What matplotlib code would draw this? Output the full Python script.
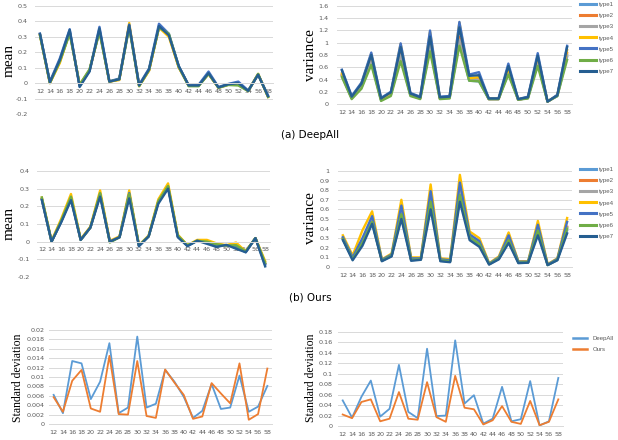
import matplotlib
matplotlib.use("Agg")
import matplotlib.pyplot as plt
from matplotlib.lines import Line2D

# ---------------- data ----------------
layers = [12, 14, 16, 18, 20, 22, 24, 26, 28, 30, 32, 34, 36, 38, 40, 42, 44, 46, 48, 50, 52, 54, 56, 58]
type_names = ["type1", "type2", "type3", "type4", "type5", "type6", "type7"]
type_colors = ["#5B9BD5", "#ED7D31", "#A5A5A5", "#FFC000", "#4472C4", "#70AD47", "#255E91"]

# (a) DeepAll - mean
da_mean_t1 = [0.315, 0.005, 0.145, 0.335, -0.015, 0.080, 0.345, 0.010, 0.025, 0.370, -0.015, 0.085, 0.365, 0.310, 0.105, -0.015, -0.015, 0.062, -0.028, -0.008, -0.005, -0.050, 0.057, -0.085]
da_mean_t2 = [0.315, 0.003, 0.140, 0.330, -0.012, 0.082, 0.340, 0.010, 0.024, 0.372, -0.017, 0.083, 0.362, 0.312, 0.104, -0.016, -0.016, 0.060, -0.029, -0.009, -0.008, -0.051, 0.058, -0.087]
da_mean_t3 = [0.316, 0.004, 0.142, 0.332, -0.013, 0.081, 0.342, 0.010, 0.025, 0.375, -0.016, 0.084, 0.364, 0.311, 0.105, -0.015, -0.015, 0.061, -0.028, -0.009, -0.006, -0.050, 0.057, -0.086]
da_mean_t4 = [0.310, 0.000, 0.130, 0.330, -0.010, 0.085, 0.340, 0.010, 0.020, 0.390, -0.020, 0.080, 0.360, 0.300, 0.100, -0.015, -0.015, 0.060, -0.030, -0.010, -0.010, -0.050, 0.060, -0.090]
da_mean_t5 = [0.320, 0.010, 0.160, 0.350, -0.020, 0.080, 0.365, 0.012, 0.030, 0.380, -0.010, 0.095, 0.385, 0.320, 0.110, -0.015, -0.010, 0.075, -0.025, -0.005, 0.010, -0.048, 0.055, -0.080]
da_mean_t6 = [0.310, 0.000, 0.140, 0.320, -0.010, 0.090, 0.330, 0.010, 0.025, 0.360, -0.020, 0.085, 0.360, 0.320, 0.105, -0.020, -0.020, 0.060, -0.030, -0.012, -0.015, -0.052, 0.060, -0.090]
da_mean_t7 = [0.320, 0.005, 0.150, 0.345, -0.025, 0.075, 0.355, 0.010, 0.025, 0.375, -0.015, 0.090, 0.370, 0.310, 0.110, -0.015, -0.015, 0.065, -0.028, -0.007, 0.000, -0.050, 0.055, -0.085]

# (a) DeepAll - variance
da_var_t1 = [0.46, 0.09, 0.27, 0.68, 0.06, 0.15, 0.76, 0.14, 0.09, 0.92, 0.09, 0.10, 1.02, 0.38, 0.37, 0.08, 0.08, 0.51, 0.07, 0.10, 0.67, 0.04, 0.13, 0.77]
da_var_t2 = [0.47, 0.10, 0.30, 0.72, 0.07, 0.16, 0.82, 0.15, 0.10, 0.98, 0.10, 0.11, 1.10, 0.41, 0.43, 0.08, 0.08, 0.55, 0.07, 0.10, 0.72, 0.04, 0.14, 0.83]
da_var_t3 = [0.48, 0.10, 0.29, 0.70, 0.07, 0.16, 0.80, 0.15, 0.10, 0.95, 0.10, 0.11, 1.05, 0.40, 0.40, 0.08, 0.08, 0.53, 0.07, 0.10, 0.70, 0.04, 0.13, 0.80]
da_var_t4 = [0.50, 0.11, 0.34, 0.82, 0.08, 0.18, 0.98, 0.16, 0.10, 1.18, 0.10, 0.12, 1.33, 0.42, 0.44, 0.09, 0.09, 0.58, 0.08, 0.11, 0.78, 0.04, 0.14, 0.88]
da_var_t5 = [0.56, 0.13, 0.35, 0.84, 0.10, 0.20, 0.99, 0.18, 0.12, 1.20, 0.12, 0.13, 1.34, 0.48, 0.52, 0.09, 0.09, 0.66, 0.08, 0.12, 0.83, 0.04, 0.15, 0.95]
da_var_t6 = [0.44, 0.08, 0.25, 0.64, 0.05, 0.13, 0.70, 0.13, 0.08, 0.86, 0.08, 0.09, 0.95, 0.38, 0.37, 0.08, 0.08, 0.48, 0.07, 0.09, 0.62, 0.04, 0.13, 0.72]
da_var_t7 = [0.55, 0.12, 0.33, 0.80, 0.09, 0.19, 0.93, 0.17, 0.11, 1.10, 0.11, 0.12, 1.25, 0.46, 0.47, 0.09, 0.09, 0.62, 0.08, 0.11, 0.79, 0.04, 0.14, 0.93]

# (b) Ours - mean
ou_mean_t1 = [0.240, 0.000, 0.115, 0.245, 0.010, 0.080, 0.265, 0.000, 0.025, 0.265, -0.022, 0.030, 0.225, 0.310, 0.030, -0.022, 0.005, -0.004, -0.020, -0.020, -0.025, -0.057, 0.020, -0.125]
ou_mean_t2 = [0.242, 0.002, 0.118, 0.250, 0.011, 0.081, 0.270, 0.001, 0.026, 0.270, -0.021, 0.031, 0.228, 0.315, 0.032, -0.021, 0.006, -0.002, -0.018, -0.020, -0.020, -0.056, 0.020, -0.122]
ou_mean_t3 = [0.241, 0.001, 0.117, 0.248, 0.010, 0.080, 0.268, 0.000, 0.025, 0.268, -0.022, 0.030, 0.226, 0.312, 0.031, -0.022, 0.005, -0.003, -0.019, -0.021, -0.022, -0.057, 0.020, -0.124]
ou_mean_t4 = [0.250, 0.005, 0.130, 0.270, 0.015, 0.085, 0.290, 0.005, 0.030, 0.290, -0.020, 0.035, 0.240, 0.330, 0.040, -0.020, 0.010, 0.010, -0.010, -0.020, -0.005, -0.055, 0.020, -0.110]
ou_mean_t5 = [0.240, 0.000, 0.115, 0.245, 0.010, 0.080, 0.270, 0.000, 0.025, 0.275, -0.025, 0.030, 0.225, 0.310, 0.030, -0.025, 0.005, -0.005, -0.020, -0.020, -0.030, -0.060, 0.020, -0.130]
ou_mean_t6 = [0.250, 0.000, 0.120, 0.255, 0.010, 0.080, 0.275, -0.005, 0.025, 0.270, -0.020, 0.030, 0.230, 0.315, 0.035, -0.020, 0.005, 0.000, -0.015, -0.022, -0.020, -0.055, 0.020, -0.120]
ou_mean_t7 = [0.235, 0.000, 0.110, 0.235, 0.010, 0.080, 0.255, 0.000, 0.025, 0.245, -0.025, 0.030, 0.215, 0.300, 0.025, -0.025, 0.005, -0.012, -0.030, -0.018, -0.040, -0.060, 0.020, -0.140]

# (b) Ours - variance
ou_var_t1 = [0.29, 0.08, 0.24, 0.46, 0.065, 0.115, 0.53, 0.07, 0.08, 0.65, 0.065, 0.055, 0.72, 0.30, 0.23, 0.03, 0.085, 0.27, 0.045, 0.045, 0.36, 0.02, 0.075, 0.38]
ou_var_t2 = [0.30, 0.09, 0.27, 0.49, 0.07, 0.125, 0.58, 0.085, 0.085, 0.72, 0.075, 0.065, 0.80, 0.33, 0.26, 0.03, 0.095, 0.30, 0.05, 0.05, 0.40, 0.025, 0.08, 0.42]
ou_var_t3 = [0.30, 0.09, 0.26, 0.48, 0.07, 0.12, 0.56, 0.08, 0.085, 0.70, 0.07, 0.06, 0.78, 0.32, 0.25, 0.03, 0.09, 0.29, 0.05, 0.05, 0.39, 0.025, 0.08, 0.41]
ou_var_t4 = [0.33, 0.12, 0.38, 0.58, 0.08, 0.14, 0.70, 0.10, 0.10, 0.86, 0.09, 0.08, 0.96, 0.37, 0.30, 0.04, 0.11, 0.36, 0.06, 0.06, 0.48, 0.03, 0.09, 0.51]
ou_var_t5 = [0.31, 0.10, 0.30, 0.53, 0.075, 0.13, 0.64, 0.09, 0.09, 0.79, 0.08, 0.07, 0.88, 0.34, 0.27, 0.035, 0.10, 0.33, 0.055, 0.055, 0.44, 0.025, 0.085, 0.47]
ou_var_t6 = [0.29, 0.08, 0.25, 0.47, 0.065, 0.12, 0.55, 0.075, 0.08, 0.68, 0.07, 0.06, 0.75, 0.31, 0.24, 0.03, 0.09, 0.28, 0.045, 0.05, 0.38, 0.02, 0.075, 0.40]
ou_var_t7 = [0.28, 0.07, 0.22, 0.45, 0.06, 0.11, 0.50, 0.065, 0.075, 0.60, 0.06, 0.05, 0.68, 0.28, 0.21, 0.025, 0.08, 0.25, 0.04, 0.045, 0.33, 0.02, 0.07, 0.35]

# Standard deviation of means
std_mean_deepall = [0.0062, 0.0023, 0.0134, 0.0129, 0.0053, 0.0090, 0.0172, 0.0023, 0.0035, 0.0186, 0.0035, 0.0043, 0.0115, 0.0090, 0.0058, 0.0013, 0.0028, 0.0085, 0.0032, 0.0035, 0.0103, 0.0026, 0.0037, 0.0081]
std_mean_ours = [0.0057, 0.0026, 0.0092, 0.0115, 0.0033, 0.0026, 0.0145, 0.0021, 0.0020, 0.0134, 0.0017, 0.0013, 0.0116, 0.0088, 0.0062, 0.0011, 0.0016, 0.0087, 0.0065, 0.0044, 0.0129, 0.0009, 0.0021, 0.0118]

# Standard deviation of variances
std_var_deepall = [0.049, 0.016, 0.056, 0.087, 0.018, 0.033, 0.117, 0.027, 0.015, 0.148, 0.019, 0.020, 0.164, 0.043, 0.059, 0.0045, 0.014, 0.075, 0.009, 0.013, 0.086, 0.001, 0.009, 0.092]
std_var_ours = [0.022, 0.015, 0.046, 0.051, 0.009, 0.014, 0.065, 0.014, 0.012, 0.084, 0.017, 0.008, 0.096, 0.035, 0.032, 0.003, 0.011, 0.038, 0.008, 0.004, 0.048, 0.0015, 0.008, 0.051]

da_mean = [da_mean_t1, da_mean_t2, da_mean_t3, da_mean_t4, da_mean_t5, da_mean_t6, da_mean_t7]
da_var = [da_var_t1, da_var_t2, da_var_t3, da_var_t4, da_var_t5, da_var_t6, da_var_t7]
ou_mean = [ou_mean_t1, ou_mean_t2, ou_mean_t3, ou_mean_t4, ou_mean_t5, ou_mean_t6, ou_mean_t7]
ou_var = [ou_var_t1, ou_var_t2, ou_var_t3, ou_var_t4, ou_var_t5, ou_var_t6, ou_var_t7]

# ---------------- drawing ----------------
W, H = 618, 440
fig = plt.figure(figsize=(W / 100, H / 100), dpi=100)
fig.patch.set_facecolor("white")

TICK_C = "#595959"
GRID_C = "#D9D9D9"
SERIF = ["Liberation Serif", "DejaVu Serif"]
SANS = ["Liberation Sans", "DejaVu Sans"]
TS = 4.6


def fmt(v, pos=None):
    v = round(v, 6)
    if abs(v) < 1e-9:
        return "0"
    return f"{v:.4f}".rstrip("0").rstrip(".")


def px_axes(x0, x1, ytop, ybot):
    return fig.add_axes([x0 / W, 1 - ybot / H, (x1 - x0) / W, (ybot - ytop) / H])


def style(ax, ylim, ystep, ypad, xpad):
    ax.set_xlim(11, 59)
    ax.set_ylim(*ylim)
    n = int(round((ylim[1] - ylim[0]) / ystep))
    ax.set_yticks([ylim[0] + i * ystep for i in range(n + 1)])
    ax.yaxis.set_major_formatter(plt.FuncFormatter(fmt))
    ax.set_xticks(layers)
    ax.set_xticklabels([str(l) for l in layers])
    ax.grid(axis="y", color=GRID_C, linewidth=0.7)
    ax.set_axisbelow(True)
    for s in ["top", "right", "left"]:
        ax.spines[s].set_visible(False)
    ax.spines["bottom"].set_position(("data", 0))
    ax.spines["bottom"].set_color(GRID_C)
    ax.spines["bottom"].set_linewidth(0.7)
    ax.tick_params(axis="both", length=0, labelsize=TS, labelcolor=TICK_C)
    ax.tick_params(axis="y", pad=ypad)
    ax.tick_params(axis="x", pad=xpad)
    ax.set_facecolor("none")


def multi(ax, data, lw=1.7):
    for vals, c, nm in zip(data, type_colors, type_names):
        ax.plot(layers, vals, color=c, lw=lw, label=nm)


def ylabel(x, y, text, size):
    fig.text(x / W, 1 - y / H, text, rotation=90, ha="center", va="center",
             fontsize=size, family=SERIF)


def legend(handles, labels, x, y, spacing):
    fig.legend(handles, labels, loc="upper left", bbox_to_anchor=(x / W, 1 - y / H),
               frameon=False, prop={"family": SANS, "size": 4.4}, handlelength=2.6,
               labelspacing=spacing, labelcolor=TICK_C, handletextpad=0.5,
               borderaxespad=0, borderpad=0)


# Panel 1
ax1 = px_axes(35, 273, 6, 114)
style(ax1, (-0.2, 0.5), 0.1, 5, 4)
multi(ax1, da_mean)
ylabel(9, 60, "mean", 11)

# Panel 2
ax2 = px_axes(337, 572, 6, 104)
style(ax2, (0, 1.6), 0.2, 6, 4)
multi(ax2, da_var)
ylabel(311, 55, "variance", 11)
h2 = [Line2D([0], [0], color=c, lw=2.2) for c in type_colors]
legend(h2, type_names, 580, 2, 0.95)

fig.text(310 / W, 1 - 135 / H, "(a) DeepAll", ha="center", va="center", fontsize=7.5)

# Panel 3
ax3 = px_axes(37, 270, 171, 277)
style(ax3, (-0.2, 0.4), 0.1, 5, 4)
multi(ax3, ou_mean)
ylabel(9, 223, "mean", 11)

# Panel 4
ax4 = px_axes(338, 572, 171, 267)
style(ax4, (0, 1.0), 0.1, 6, 4)
multi(ax4, ou_var)
ylabel(311, 218, "variance", 11)
legend(h2, type_names, 580, 167, 0.95)

fig.text(310 / W, 1 - 297 / H, "(b) Ours", ha="center", va="center", fontsize=7.5)

# Panel 5
ax5 = px_axes(49, 272, 330, 424)
style(ax5, (0, 0.02), 0.002, 3, 4)
ax5.plot(layers, std_mean_deepall, color="#5B9BD5", lw=1.3)
ax5.plot(layers, std_mean_ours, color="#ED7D31", lw=1.3)
ylabel(18, 378, "Standard deviation", 8.5)

# Panel 6
ax6 = px_axes(338, 563, 332, 426)
style(ax6, (0, 0.18), 0.02, 4, 4)
ax6.plot(layers, std_var_deepall, color="#5B9BD5", lw=1.3, label="DeepAll")
ax6.plot(layers, std_var_ours, color="#ED7D31", lw=1.3, label="Ours")
ylabel(311, 378, "Standard deviation", 8.5)
h6 = [Line2D([0], [0], color="#5B9BD5", lw=1.8), Line2D([0], [0], color="#ED7D31", lw=1.8)]
fig.legend(h6, ["DeepAll", "Ours"], loc="upper left", bbox_to_anchor=(573 / W, 1 - 336 / H),
           frameon=False, prop={"family": SANS, "size": 4.3}, handlelength=2.3,
           labelspacing=1.0, labelcolor=TICK_C, handletextpad=1.0,
           borderaxespad=0, borderpad=0)

fig.savefig("out.png", dpi=100, facecolor="white")
